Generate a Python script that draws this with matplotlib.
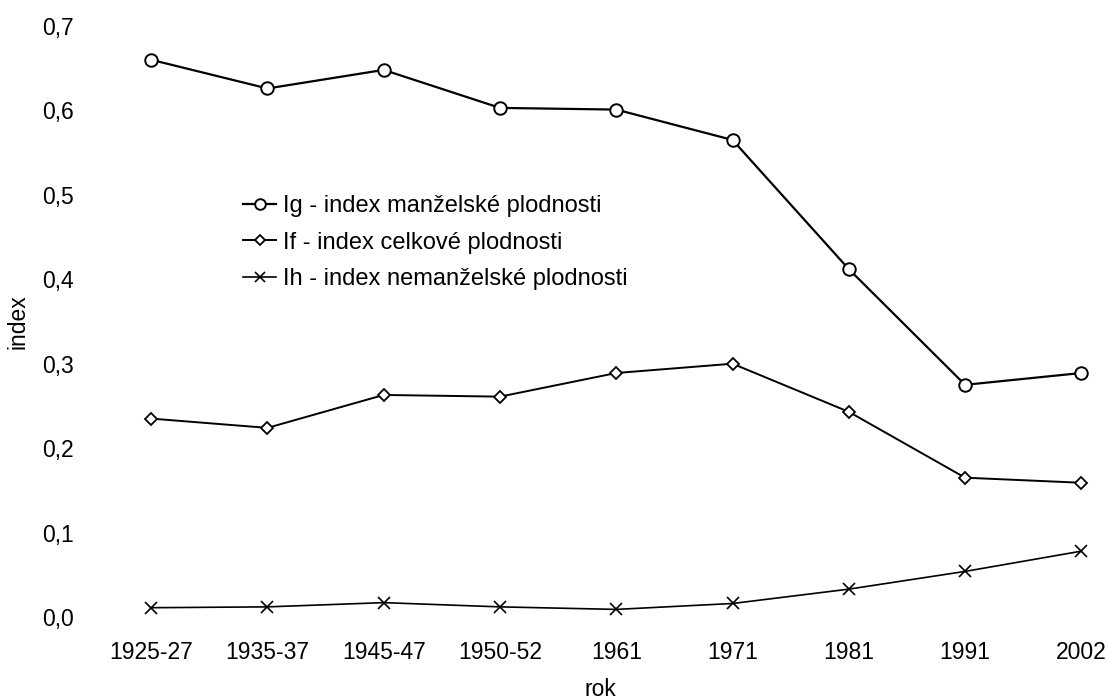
import numpy as np
import matplotlib
matplotlib.use('Agg')
import matplotlib.pyplot as plt

# data
roky = ['1925-27', '1935-37', '1945-47', '1950-52', '1961', '1971', '1981', '1991', '2002']
ig = [0.660, 0.626, 0.648, 0.603, 0.601, 0.565, 0.412, 0.275, 0.289]
i_f = [0.235, 0.224, 0.263, 0.261, 0.289, 0.300, 0.243, 0.165, 0.159]
ih = [0.011, 0.012, 0.017, 0.012, 0.009, 0.016, 0.033, 0.054, 0.078]
yticks = [0.0, 0.1, 0.2, 0.3, 0.4, 0.5, 0.6, 0.7]

plt.rcParams['font.family'] = ['Liberation Sans', 'DejaVu Sans']

fig = plt.figure(figsize=(11.07, 7.0), dpi=100)
W, H = 1107, 700
# plot area in pixels: x 93..1107, y 26..617
ax = fig.add_axes([93 / W, (H - 617) / H, (W - 93) / W, (617 - 26) / H])

x = np.arange(len(roky))
ax.plot(x, ig, color='black', lw=1.6, marker='o', ms=9, mfc='white', mec='black',
        mew=1.4, clip_on=False, label='Ig - index manželské plodnosti')
ax.plot(x, i_f, color='black', lw=1.4, marker='D', ms=6.4, mfc='white', mec='black',
        mew=1.3, clip_on=False, label='If - index celkové plodnosti')
ax.plot(x, ih, color='black', lw=1.2, marker='x', ms=8, mec='black',
        mew=1.2, clip_on=False, label='Ih - index nemanželské plodnosti')

ax.set_xlim(-0.5, (W - 151) / 116.3)
ax.set_ylim(0, 0.7)
ax.set_xticks(x)
ax.set_xticklabels(roky, fontsize=16.5)
ax.set_yticks(yticks)
ax.set_yticklabels([f'{v:.1f}'.replace('.', ',') for v in yticks], fontsize=16.5)
ax.tick_params(axis='both', length=0)
ax.tick_params(axis='y', pad=14)
ax.tick_params(axis='x', pad=17)
for s in ax.spines.values():
    s.set_visible(False)

ax.set_xlabel('rok', fontsize=16.5, labelpad=10)
ax.set_ylabel('index', fontsize=16.5)
ax.yaxis.set_label_coords(-0.063, 0.5)

leg = ax.legend(loc='upper left', bbox_to_anchor=(243 / W, 1 - 195 / H),
                bbox_transform=fig.transFigure, frameon=False, fontsize=17,
                handlelength=1.4, handletextpad=0.3, labelspacing=0.62,
                borderaxespad=0, borderpad=0)
for h in leg.legend_handles:
    h.set_markersize(h.get_markersize() * 0.85)

fig.savefig('out.png', dpi=100, facecolor='white')
